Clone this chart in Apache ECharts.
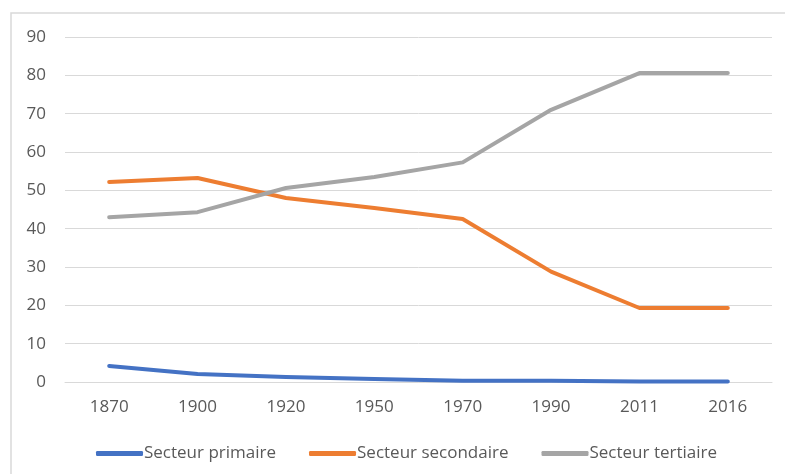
<!DOCTYPE html>
<html>
<head>
<meta charset="utf-8">
<script src="https://cdn.jsdelivr.net/npm/echarts@6/dist/echarts.min.js"></script>
<style>
  html, body { margin: 0; padding: 0; background: #fff; }
  #main { width: 785px; height: 474px; }
</style>
</head>
<body>
<div id="main"></div>
<script>
var annees = ['1870', '1900', '1920', '1950', '1970', '1990', '2011', '2016'];
var primaire = [4.2, 2.1, 1.3, 0.8, 0.3, 0.3, 0.1, 0.1];
var secondaire = [52.2, 53.2, 48, 45.4, 42.5, 28.8, 19.3, 19.3];
var tertiaire = [43, 44.3, 50.6, 53.5, 57.3, 71, 80.6, 80.6];

var chart = echarts.init(document.getElementById('main'));

function serie(nom, data, couleur) {
    return {
        name: nom,
        type: 'line',
        data: data,
        symbol: 'none',
        lineStyle: { width: 4, color: couleur, cap: 'round', join: 'round' },
        itemStyle: { color: couleur }
    };
}

var option = {
    animation: false,
    textStyle: { fontFamily: 'Open Sans' },
    graphic: [{
        type: 'rect',
        shape: { x: 11, y: 13, width: 800, height: 500 },
        style: { fill: 'none', stroke: '#d9d9d9', lineWidth: 1.5 },
        silent: true
    }],
    grid: { left: 65, right: 13, top: 37, bottom: 92 },
    legend: {
        top: 440,
        left: 91,
        itemWidth: 47,
        itemHeight: 5,
        itemGap: 33,
        icon: 'roundRect',
        textStyle: { color: '#595959', fontSize: 17, padding: [0, 0, 0, -4] },
        data: ['Secteur primaire', 'Secteur secondaire', 'Secteur tertiaire']
    },
    xAxis: {
        type: 'category',
        data: annees,
        axisLine: { lineStyle: { color: '#d9d9d9' } },
        axisTick: { show: false },
        axisLabel: { color: '#595959', fontSize: 17, margin: 17 }
    },
    yAxis: {
        type: 'value',
        min: 0,
        max: 90,
        interval: 10,
        axisLine: { show: false },
        axisTick: { show: false },
        axisLabel: { color: '#595959', fontSize: 17, margin: 19 },
        splitLine: { lineStyle: { color: '#d9d9d9', width: 1 } }
    },
    series: [
        serie('Secteur primaire', primaire, '#4472c4'),
        serie('Secteur secondaire', secondaire, '#ed7d31'),
        serie('Secteur tertiaire', tertiaire, '#a5a5a5')
    ]
};

chart.setOption(option);
</script>
</body>
</html>
